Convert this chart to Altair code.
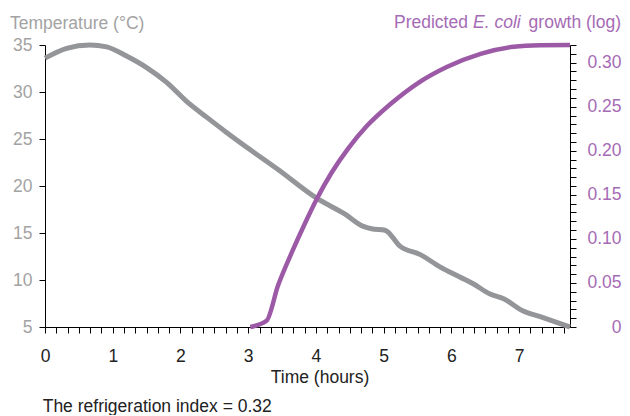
import altair as alt
import pandas as pd

# Temperature series (hours, °C)
temp_time = [0.00, 0.32, 0.66, 0.91, 1.21, 1.50, 1.80, 2.09, 2.39, 2.68, 3.03, 3.44, 4.01,
             4.43, 4.70, 4.82, 5.02, 5.24, 5.54, 5.83, 6.13, 6.32, 6.57, 6.77, 7.06, 7.31, 7.75]
temp_vals = [33.6, 34.65, 35.0, 34.8, 33.8, 32.6, 31.0, 29.0, 27.3, 25.7, 23.85, 21.75, 18.7,
             17.0, 15.7, 15.45, 15.3, 13.6, 12.7, 11.4, 10.3, 9.6, 8.5, 8.0, 6.7, 6.1, 5.0]

# Predicted E. coli growth (hours, log)
growth_time = [3.03, 3.27, 3.44, 3.64, 3.84, 4.01, 4.23, 4.48, 4.75, 5.10, 5.49, 5.93, 6.43, 6.92, 7.31, 7.75]
growth_vals = [0.0, 0.007, 0.047, 0.084, 0.118, 0.145, 0.175, 0.203, 0.228, 0.253, 0.276,
               0.295, 0.310, 0.318, 0.3197, 0.32]

x_ticks = [k / 6 for k in range(0, 47)]
left_ticks = [5, 10, 15, 20, 25, 30, 35]
right_ticks = [k / 100 for k in range(0, 33)]

FONT = "Liberation Sans"
FS = 17.5
GREY = "#939598"
PURPLE = "#9b59a6"
PURPLE_TXT = "#a66bb5"
GREY_TXT = "#a3a3a3"
DARK = "#222222"

temp_df = pd.DataFrame({"time": temp_time, "temp": temp_vals})
growth_df = pd.DataFrame({"time": growth_time, "growth": growth_vals})

x_enc = alt.X("time:Q", scale=alt.Scale(domain=[0, 7.75], nice=False, zero=False),
              axis=alt.Axis(title=None, values=x_ticks, grid=False, tickSize=6, labelPadding=14,
                            labelColor=DARK, labelFont=FONT, labelFontSize=FS,
                            labelExpr="abs(datum.value - round(datum.value)) < 0.001 ? format(round(datum.value), 'd') : ''",
                            domainColor="black", tickColor="black", labelFlush=False, labelOverlap=False))

temp_line = alt.Chart(temp_df).mark_line(color=GREY, strokeWidth=5, interpolate="monotone").encode(
    x=x_enc,
    y=alt.Y("temp:Q", scale=alt.Scale(domain=[5, 35], nice=False, zero=False),
            axis=alt.Axis(title=None, values=left_ticks, grid=False, tickSize=6, labelPadding=7,
                          labelColor=GREY_TXT, labelFont=FONT, labelFontSize=FS,
                          domainColor="black", tickColor="black", labelFlush=False))
)

growth_line = alt.Chart(growth_df).mark_line(color=PURPLE, strokeWidth=4.5, interpolate="monotone").encode(
    x=x_enc,
    y=alt.Y("growth:Q", scale=alt.Scale(domain=[0, 0.32], nice=False, zero=False),
            axis=alt.Axis(title=None, orient="right", values=right_ticks, grid=False, tickSize=6,
                          labelPadding=45, labelAlign="right", labelColor=PURPLE_TXT, labelFont=FONT,
                          labelFontSize=FS, labelFlush=False, labelOverlap=False,
                          labelExpr="datum.value == 0 ? '0' : (abs(round(datum.value*100)) % 5 == 0 ? format(datum.value, '.2f') : '')",
                          domainColor="black", tickColor="black"))
)

one = pd.DataFrame({"a": [0]})

def label(text, x, y, color, align="left", style="normal"):
    return alt.Chart(one).mark_text(text=text, align=align, baseline="alphabetic", font=FONT,
                                    fontSize=FS, color=color, fontStyle=style).encode(
        x=alt.value(x), y=alt.value(y))

texts = [
    label("Temperature (°C)", -35, -16.5, GREY_TXT),
    label("Predicted", 349, -17, PURPLE_TXT),
    label("E. coli", 428, -17, PURPLE_TXT, style="italic"),
    label("growth (log)", 576, -17, PURPLE_TXT, align="right"),
    label("Time (hours)", 275, 337.5, DARK, align="center"),
    label("The refrigeration index = 0.32", -2.3, 366.5, DARK),
]

chart = alt.layer(temp_line, growth_line, *texts).resolve_scale(y="independent").properties(
    width=525, height=282,
    autosize=alt.AutoSizeParams(type="none"),
    padding={"left": 37, "top": 37, "right": 52, "bottom": 88},
).configure_view(stroke=None).configure_axis(domainWidth=1, tickWidth=1)

chart.save("out.html", embed_options={"renderer": "svg", "actions": False})
